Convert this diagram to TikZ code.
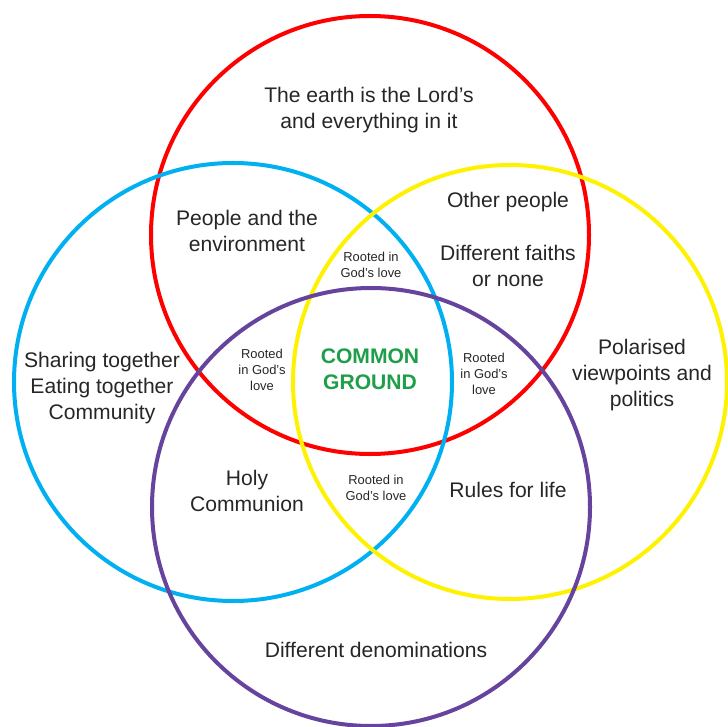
\documentclass[tikz,border=0pt]{standalone}
\usepackage{fontspec}
\setmainfont{Liberation Sans}
\usetikzlibrary{positioning}

\definecolor{ringred}{HTML}{FF0000}
\definecolor{ringblue}{HTML}{00B0F0}
\definecolor{ringyellow}{HTML}{FFF200}
\definecolor{ringpurple}{HTML}{66449E}
\definecolor{groundgreen}{HTML}{1F9E4A}
\definecolor{textgrey}{HTML}{262626}

\tikzset{
  ring/.style={line width=2.85pt},
  label big/.style={align=center, inner sep=0pt, text=textgrey,
    font=\fontsize{15}{18.4}\selectfont},
  label small/.style={align=center, inner sep=0pt, text=textgrey,
    font=\fontsize{9.2}{11.4}\selectfont},
}

\begin{document}
\begin{tikzpicture}[x=0.025cm, y=-0.025cm]

\useasboundingbox (0,0) rectangle (728,727);

% the four rings
\draw[ring, ringred] (370,235) circle[radius=219];
\draw[ring, ringblue] (233,382) circle[radius=219];
\draw[ring, ringyellow] (510,382) circle[radius=217];
\draw[ring, ringpurple] (371,507) circle[radius=219];

% outer parts
\node (earth) at (369,110) [label big] {The earth is the Lord’s\\and everything in it};
\node (share) at (102,388) [label big] {Sharing together\\Eating together\\Community};
\node (polar) at (642,375) [label big] {Polarised\\viewpoints and\\politics};
\node (denom) at (376,650) [label big] {Different denominations};

% pairs
\node (envir) at (247,231) [label big] {People and the\\environment};
\node (other) at (508,202) [label big] {Other people};
\node (faith) at (508,266) [label big] {Different faiths\\or none};
\node (holy) at (247,491) [label big] {Holy\\Communion};
\node (rules) at (508,490) [label big] {Rules for life};

% triples
\node (roottop) at (371,265) [label small] {Rooted in\\God’s love};
\node (rootleft) at (262,370) [label small] {Rooted\\in God’s\\love};
\node (rootright) at (484,374) [label small] {Rooted\\in God’s\\love};
\node (rootbot) at (376,488) [label small] {Rooted in\\God’s love};

% middle
\node (common) at (370,369) [align=center, inner sep=0pt, text=groundgreen,
  font=\fontsize{15}{18.6}\selectfont\bfseries] {COMMON\\GROUND};

\end{tikzpicture}
\end{document}
